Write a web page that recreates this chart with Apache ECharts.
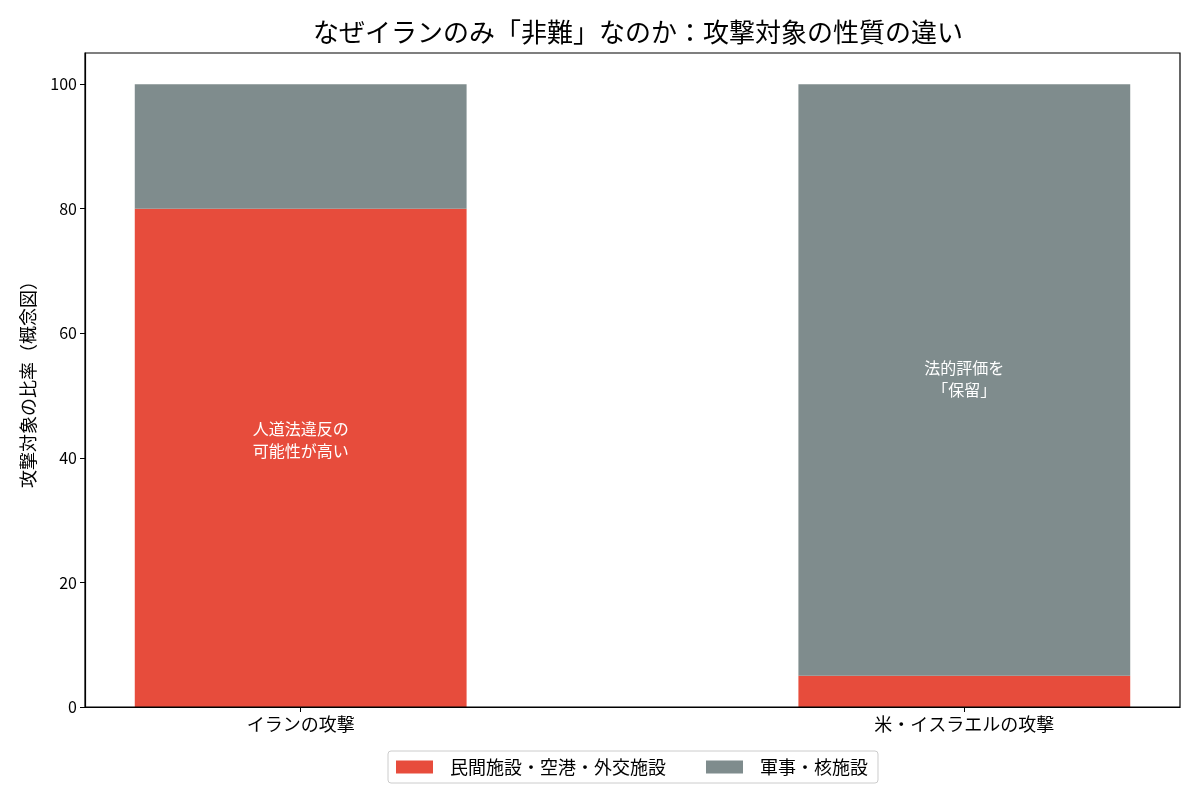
<!DOCTYPE html>
<html>
<head>
<meta charset="utf-8">
<script src="https://cdn.jsdelivr.net/npm/echarts@6/dist/echarts.min.js"></script>
<style>
  html, body { margin: 0; padding: 0; background: #fff; }
  #main { width: 1200px; height: 800px; }
</style>
</head>
<body>
<div id="main"></div>
<script>
// カテゴリと値
const categories = ['イランの攻撃', '米・イスラエルの攻撃'];
const civilian = [80, 5];     // 民間施設・空港・外交施設
const military = [20, 95];    // 軍事・核施設
const civilianNotes = ['人道法違反の\n可能性が高い', ''];
const militaryNotes = ['', '法的評価を\n「保留」'];
const yTicks = [0, 20, 40, 60, 80, 100];

const FONT = '"Noto Sans CJK JP", "Noto Sans", sans-serif';
const RED = '#e74c3c';
const GRAY = '#7f8c8d';
const BAR_W = 0.5;

const chart = echarts.init(document.getElementById('main'));

// 積み上げ棒（下端・上端）をデータから作る
const civilianData = civilian.map((v, i) => [i, 0, v]);
const militaryData = military.map((v, i) => [i, civilian[i], civilian[i] + v]);

const makeRender = (notes, dy) => (params, api) => {
  const x = api.value(0);
  const p0 = api.coord([x, api.value(1)]);
  const p1 = api.coord([x, api.value(2)]);
  const w = api.size([BAR_W, 0])[0];
  const note = notes[params.dataIndex];
  return {
    type: 'rect',
    shape: { x: p0[0] - w / 2, y: p1[1], width: w, height: p0[1] - p1[1] },
    style: api.style(),
    textContent: note ? {
      style: {
        text: note, fill: '#fff', fontFamily: FONT, fontSize: 16,
        lineHeight: 22, align: 'center', verticalAlign: 'middle'
      }
    } : undefined,
    textConfig: { position: 'inside', offset: [0, dy] }
  };
};

chart.setOption({
  animation: false,
  title: {
    text: 'なぜイランのみ「非難」なのか：攻撃対象の性質の違い',
    left: 633, textAlign: 'center', top: 14,
    textStyle: { fontFamily: FONT, fontSize: 26, fontWeight: 'normal', color: '#000' }
  },
  legend: {
    bottom: 17, left: 388,
    icon: 'rect',
    itemWidth: 37, itemHeight: 13, itemGap: 40,
    padding: [7, 10, 7, 8],
    borderColor: '#ccc', borderWidth: 1, borderRadius: 3,
    textStyle: { fontFamily: FONT, fontSize: 18, color: '#000', padding: [0, 0, 0, 12] },
    data: ['民間施設・空港・外交施設', '軍事・核施設']
  },
  grid: { left: 85, right: 20, top: 53, bottom: 93 },
  xAxis: {
    type: 'value', min: -0.325, max: 1.325,
    splitLine: { show: false },
    axisLine: { onZero: false, lineStyle: { color: '#000', width: 1.2 } },
    axisTick: { show: true, length: 5, lineStyle: { color: '#000' }, customValues: [0, 1] },
    axisLabel: {
      customValues: [0, 1],
      color: '#000', fontFamily: FONT, fontSize: 18, margin: 8,
      formatter: v => categories[Math.round(v)]
    }
  },
  yAxis: {
    type: 'value', min: 0, max: 105,
    name: '攻撃対象の比率（概念図）', nameLocation: 'middle', nameRotate: 90, nameGap: 48,
    nameTextStyle: { fontFamily: FONT, fontSize: 18, color: '#000' },
    splitLine: { show: false },
    axisLine: { show: true, onZero: false, lineStyle: { color: '#000', width: 1.2 } },
    axisTick: { show: true, length: 5, lineStyle: { color: '#000' }, customValues: yTicks },
    axisLabel: { customValues: yTicks, color: '#000', fontFamily: FONT, fontSize: 16, margin: 8 }
  },
  graphic: [{
    type: 'rect', silent: true, z: 100,
    shape: { x: 85, y: 53, width: 1095, height: 654 },
    style: { fill: 'none', stroke: '#000', lineWidth: 1.2 }
  }],
  series: [
    {
      name: '民間施設・空港・外交施設', type: 'custom',
      itemStyle: { color: RED },
      encode: { x: 0, y: [1, 2] },
      renderItem: makeRender(civilianNotes, -18),
      data: civilianData
    },
    {
      name: '軍事・核施設', type: 'custom',
      itemStyle: { color: GRAY },
      encode: { x: 0, y: [1, 2] },
      renderItem: makeRender(militaryNotes, -1),
      data: militaryData
    }
  ]
});
</script>
</body>
</html>
